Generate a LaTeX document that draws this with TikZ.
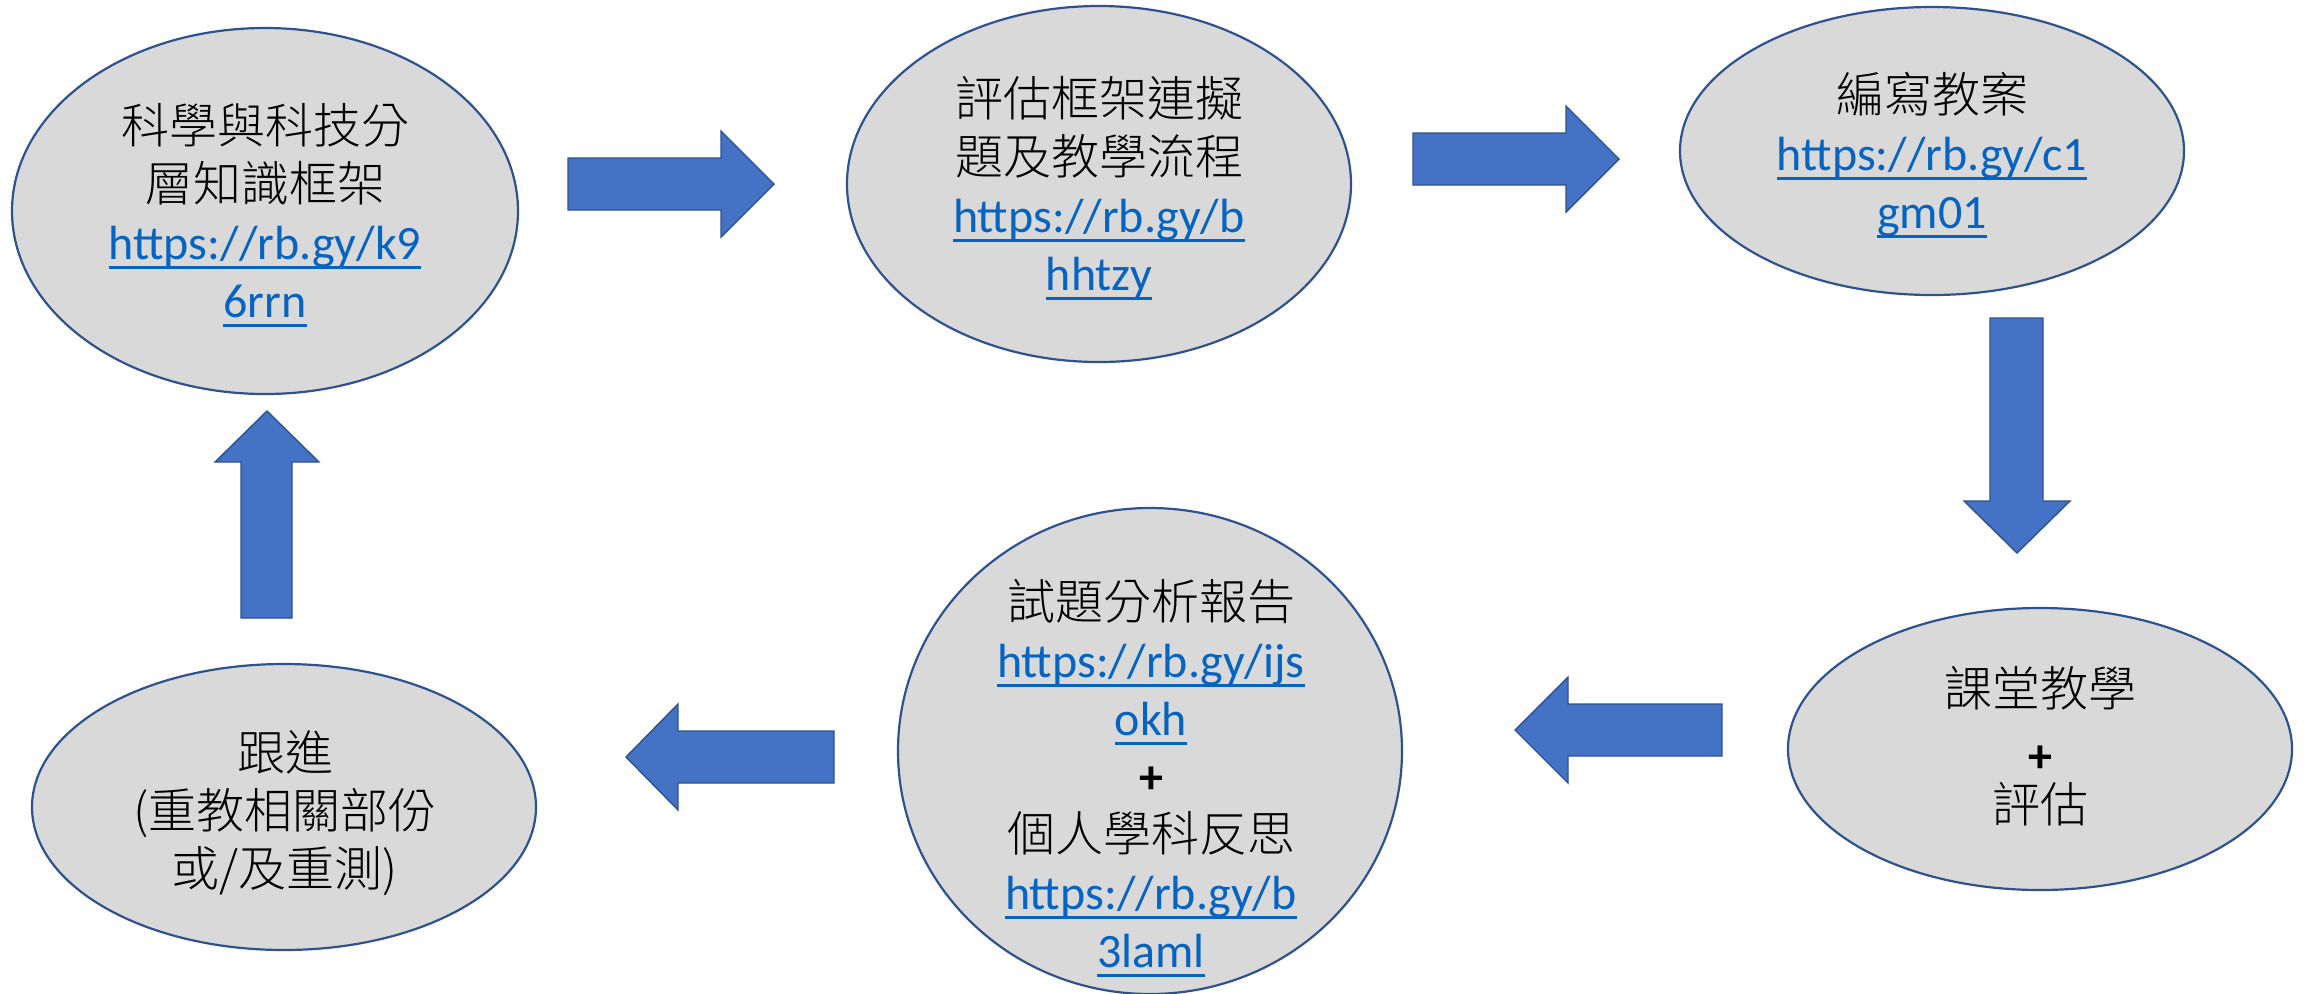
\documentclass[tikz,border=0pt]{standalone}
\usepackage{fontspec}
\setmainfont{Carlito}
\newfontfamily\cjk{Noto Sans CJK TC Light}
\newfontfamily\lat{Carlito}
\usetikzlibrary{shapes.geometric}
\definecolor{bubfill}{HTML}{D9D9D9}
\definecolor{bubline}{HTML}{2F528F}
\definecolor{arrfill}{HTML}{4472C4}
\definecolor{linkblue}{HTML}{0563C1}
\newcommand\lnk[1]{\leavevmode\sbox0{\lat\textcolor{linkblue}{#1}}\rlap{\textcolor{linkblue}{\rule[-4.7pt]{\wd0}{1.3pt}}}\usebox0}
\newcommand\plussign{{\lat\bfseries +}}
\tikzset{
  bub/.style={ellipse, draw=bubline, fill=bubfill, line width=1.1pt, inner sep=0pt},
  txt/.style={align=center, inner sep=0pt, font=\cjk\fontsize{24}{29}\selectfont},
  blockarr/.style={fill=arrfill, draw=bubline, line width=0.7pt, line join=miter}
}
\begin{document}
\begin{tikzpicture}[x=0.5pt,y=-0.5pt]
\useasboundingbox (0,0) rectangle (2308,993);
% bubbles
\node[bub, minimum width=253pt, minimum height=183pt] (e1) at (265,211) {};
\node[bub, minimum width=252pt, minimum height=178pt] (e2) at (1099,184) {};
\node[bub, minimum width=252pt, minimum height=144pt] (e3) at (1932,151) {};
\node[bub, minimum width=252pt, minimum height=141pt] (e4) at (2040,749) {};
\node[bub, minimum width=252pt, minimum height=243pt] (e5) at (1150,751) {};
\node[bub, minimum width=252pt, minimum height=143pt] (e6) at (284,807) {};
% texts
\node[txt] (t1) at (265,215) {科學與科技分\\層知識框架\\\lnk{https://rb.gy/k9}\\\lnk{6rrn}};
\node[txt] (t2) at (1099,188) {評估框架連擬\\題及教學流程\\\lnk{https://rb.gy/b}\\\lnk{hhtzy}};
\node[txt] (t3) at (1932,155) {編寫教案\\\lnk{https://rb.gy/c1}\\\lnk{gm01}};
\node[txt] (t4) at (2040,746) {課堂教學\\\raisebox{-4pt}{\plussign}\\評估};
\node[txt] (t5) at (1151,778) {試題分析報告\\\lnk{https://rb.gy/ijs}\\\lnk{okh}\\\plussign\\個人學科反思\\\lnk{https://rb.gy/b}\\\lnk{3laml}};
\node[txt] (t6) at (285,813) {跟進\\(重教相關部份\\或/及重測)};
% block arrows
\draw[blockarr] (568,158) -- (721,158) -- (721,131) -- (774,184) -- (721,237) -- (721,210) -- (568,210) -- cycle;
\draw[blockarr] (1413,133) -- (1566,133) -- (1566,106) -- (1619,159) -- (1566,212) -- (1566,185) -- (1413,185) -- cycle;
\draw[blockarr] (1990,318) -- (2043,318) -- (2043,501) -- (2070,501) -- (2017,553) -- (1964,501) -- (1990,501) -- cycle;
\draw[blockarr] (1722,704) -- (1568,704) -- (1568,677) -- (1515,730) -- (1568,783) -- (1568,756) -- (1722,756) -- cycle;
\draw[blockarr] (834,731) -- (678,731) -- (678,704) -- (626,757) -- (678,810) -- (678,783) -- (834,783) -- cycle;
\draw[blockarr] (241,618) -- (241,462) -- (215,462) -- (267,411) -- (319,462) -- (292,462) -- (292,618) -- cycle;
\end{tikzpicture}
\end{document}
